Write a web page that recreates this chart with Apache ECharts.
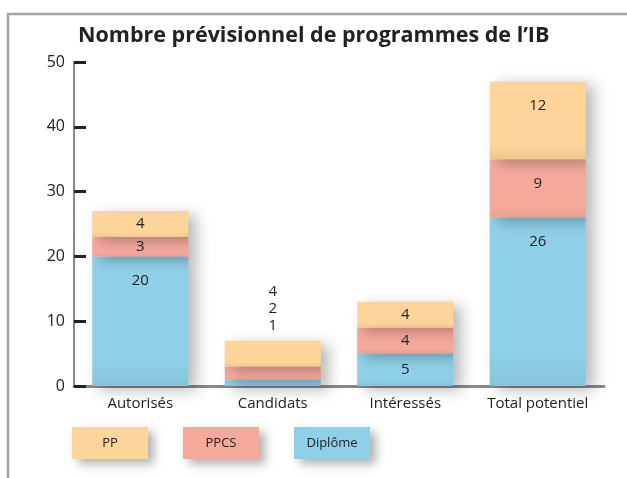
<!DOCTYPE html>
<html>
<head>
<meta charset="utf-8">
<script src="https://cdn.jsdelivr.net/npm/echarts@6/dist/echarts.min.js"></script>
<style>html,body{margin:0;padding:0;background:#fff;}#c{width:627px;height:478px;}</style>
</head>
<body>
<div id="c"></div>
<script>
const titleText = "Nombre prévisionnel de programmes de l’IB";
const categories = ["Autorisés", "Candidats", "Intéressés", "Total potentiel"];
const seriesNames = ["Diplôme", "PPCS", "PP"];
const diplome = [20, 1, 5, 26];
const ppcs = [3, 2, 4, 9];
const pp = [4, 4, 4, 12];
const yTicks = [0, 10, 20, 30, 40, 50];
const legendOrder = ["PP", "PPCS", "Diplôme"];

const colors = { "Diplôme": "#8FD0E8", "PPCS": "#F5A99C", "PP": "#FDD59B" };
const shade = { "Diplôme": "#86C4DA", "PPCS": "#E6A095", "PP": "#EDC890" };
const FONT = "Open Sans";
const allVals = [diplome, ppcs, pp];
const totals = categories.map((_, i) => diplome[i] + ppcs[i] + pp[i]);

function grad(name) {
  return { type: 'linear', x: 0, y: 0, x2: 0, y2: 1, colorStops: [
    { offset: 0, color: colors[name] }, { offset: 0.8, color: colors[name] }, { offset: 1, color: shade[name] }] };
}

const series = seriesNames.map((name, s) => ({
  name: name,
  type: 'bar',
  stack: 'all',
  barWidth: '72.5%',
  itemStyle: { color: grad(name), shadowColor: 'rgba(0,0,0,0.28)', shadowBlur: 14, shadowOffsetX: 8, shadowOffsetY: 4 },
  data: allVals[s].map((v, i) => {
    const small = totals[i] < 10;
    let label;
    if (small) {
      if (s === seriesNames.length - 1) {
        label = { show: true, position: 'top', distance: 6, lineHeight: 17,
          formatter: () => [pp[i], ppcs[i], diplome[i]].join('\n') };
      } else label = { show: false };
    } else if (v >= 9) {
      label = { show: true, position: 'insideTop', distance: 17 };
    } else {
      label = { show: true, position: 'inside' };
    }
    return { value: v, label: label };
  }),
  label: { color: '#222', fontSize: 15, fontFamily: FONT }
}));

const rich = {};
legendOrder.forEach((n, k) => {
  rich['k' + k] = { backgroundColor: colors[n], width: 76, height: 32, lineHeight: 32, align: 'center',
    fontFamily: FONT, fontSize: 13, color: '#222',
    shadowColor: 'rgba(0,0,0,0.3)', shadowBlur: 10, shadowOffsetX: 6, shadowOffsetY: 5 };
});

const chart = echarts.init(document.getElementById('c'), null, { renderer: 'canvas' });
chart.setOption({
  animation: false,
  title: { text: titleText, left: 73, top: 20, textStyle: { fontFamily: FONT, fontSize: 21.5, fontWeight: 'bold', color: '#222' } },
  legend: { data: legendOrder.map(n => ({ name: n, icon: 'none' })), left: 67, top: 427, padding: 0,
    itemWidth: 0, itemHeight: 0, itemGap: 30,
    formatter: name => '{k' + legendOrder.indexOf(name) + '|' + name + '}',
    textStyle: { rich: rich } },
  graphic: [{ type: 'rect', shape: { x: 8, y: 14, width: 700, height: 600 }, style: { fill: 'none', stroke: '#a3a3a3', lineWidth: 2.5 }, silent: true, z: -10 }],
  grid: { left: 74, right: 23, top: 62, bottom: 92 },
  xAxis: { type: 'category', data: categories,
    axisLine: { lineStyle: { color: '#888', width: 3 } }, axisTick: { show: false },
    axisLabel: { fontFamily: FONT, fontSize: 15, color: '#222', margin: 10 } },
  yAxis: { type: 'value', min: yTicks[0], max: yTicks[yTicks.length - 1], interval: 10,
    axisLine: { show: true, lineStyle: { color: '#888', width: 2 } },
    axisTick: { show: true, inside: true, length: 12, lineStyle: { color: '#222', width: 3 } },
    splitLine: { show: false },
    axisLabel: { fontFamily: FONT, fontSize: 16, color: '#222', margin: 9 } },
  series: series
});
</script>
</body>
</html>
